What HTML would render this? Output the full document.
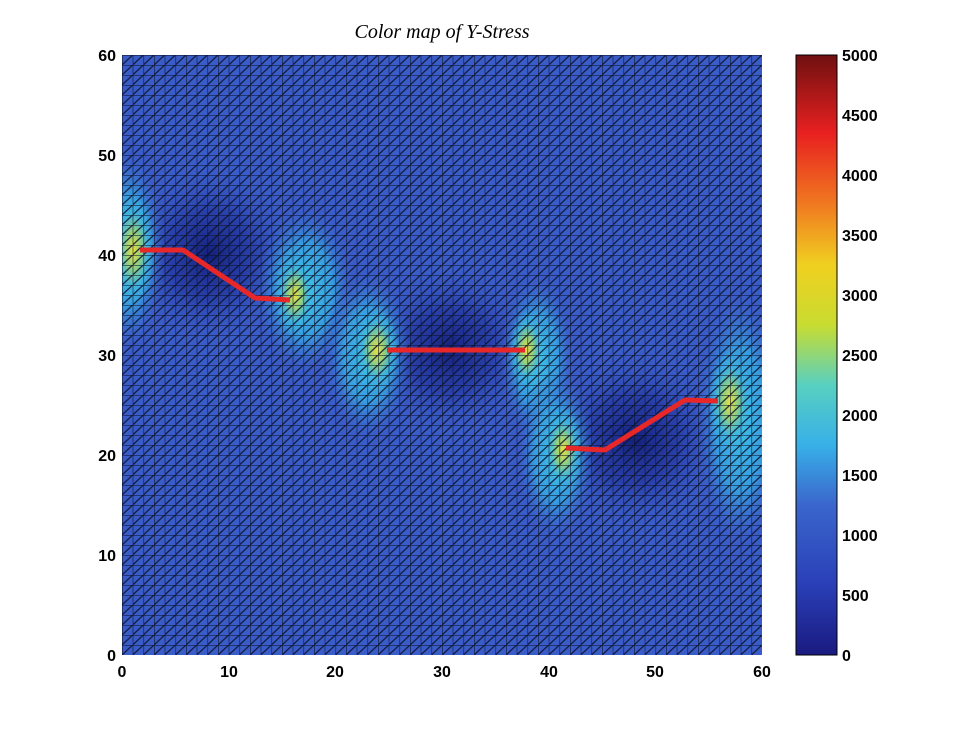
<!DOCTYPE html><html><head><style>body{margin:0;background:#fff;width:955px;height:733px;overflow:hidden}</style></head><body>
<svg width="955" height="733" xmlns="http://www.w3.org/2000/svg" font-family="Liberation Sans, sans-serif">
<defs>
<clipPath id="c"><rect x="122" y="55" width="640" height="600"/></clipPath>
<pattern id="g" x="122" y="55" width="10.667" height="10" patternUnits="userSpaceOnUse">
<path d="M0 0H10.667M0 0V10M0 10L10.667 0" stroke="#0a1028" stroke-width="1.3" fill="none" opacity="0.85"/></pattern>
<radialGradient id="hot"><stop offset="0" stop-color="#e8e040"/><stop offset="0.35" stop-color="#90d080"/><stop offset="0.7" stop-color="#40b8e0" stop-opacity="0.6"/><stop offset="1" stop-color="#40b8e0" stop-opacity="0"/></radialGradient>
<radialGradient id="cy"><stop offset="0" stop-color="#3cc4ea"/><stop offset="0.55" stop-color="#38a8e4" stop-opacity="0.85"/><stop offset="1" stop-color="#3a5cc8" stop-opacity="0"/></radialGradient>
<radialGradient id="dk"><stop offset="0" stop-color="#14207a"/><stop offset="0.5" stop-color="#22359e" stop-opacity="0.7"/><stop offset="1" stop-color="#3a5cc8" stop-opacity="0"/></radialGradient>
<linearGradient id="jet" x1="0" y1="1" x2="0" y2="0">
<stop offset="0" stop-color="#1a1a80"/><stop offset="0.12" stop-color="#2a40b8"/><stop offset="0.25" stop-color="#3a66cc"/><stop offset="0.35" stop-color="#38b0e8"/><stop offset="0.45" stop-color="#58d0c0"/><stop offset="0.55" stop-color="#c8dc30"/><stop offset="0.65" stop-color="#f0d020"/><stop offset="0.75" stop-color="#f07a20"/><stop offset="0.87" stop-color="#e82020"/><stop offset="1" stop-color="#701010"/></linearGradient>
</defs>
<text x="442" y="38" font-family="Liberation Serif, serif" font-style="italic" font-size="20" text-anchor="middle">Color map of Y-Stress</text>
<rect x="122" y="55" width="640" height="600" fill="#3a5cc8"/>
<g clip-path="url(#c)">
<ellipse cx="210" cy="255" rx="85" ry="90" fill="url(#dk)"/>
<ellipse cx="450" cy="350" rx="85" ry="85" fill="url(#dk)"/>
<ellipse cx="635" cy="440" rx="90" ry="90" fill="url(#dk)"/>
<ellipse cx="128" cy="250" rx="38" ry="100" fill="url(#cy)"/>
<ellipse cx="305" cy="290" rx="50" ry="85" fill="url(#cy)"/>
<ellipse cx="368" cy="355" rx="45" ry="85" fill="url(#cy)"/>
<ellipse cx="537" cy="360" rx="38" ry="85" fill="url(#cy)"/>
<ellipse cx="556" cy="455" rx="40" ry="85" fill="url(#cy)"/>
<ellipse cx="740" cy="420" rx="45" ry="130" fill="url(#cy)"/>
<ellipse cx="133" cy="250" rx="22" ry="55" fill="url(#hot)"/>
<ellipse cx="295" cy="295" rx="20" ry="40" fill="url(#hot)"/>
<ellipse cx="377" cy="350" rx="22" ry="42" fill="url(#hot)"/>
<ellipse cx="527" cy="350" rx="18" ry="40" fill="url(#hot)"/>
<ellipse cx="563" cy="450" rx="20" ry="42" fill="url(#hot)"/>
<ellipse cx="730" cy="402" rx="22" ry="50" fill="url(#hot)"/>
</g>
<rect x="122" y="55" width="640" height="600" fill="url(#g)"/>
<g stroke="#e82828" stroke-width="5" fill="none" stroke-linejoin="round">
<polyline points="140,250 183,250 255,298 290,300"/>
<polyline points="387,350 525,350"/>
<polyline points="566,448 605,450 685,400 718,401"/>
</g>
<g font-size="16" font-weight="bold" text-anchor="end">
<text x="116" y="61">60</text><text x="116" y="161">50</text><text x="116" y="261">40</text><text x="116" y="361">30</text><text x="116" y="461">20</text><text x="116" y="561">10</text><text x="116" y="661">0</text></g>
<g font-size="16" font-weight="bold" text-anchor="middle">
<text x="122" y="677">0</text><text x="229" y="677">10</text><text x="335" y="677">20</text><text x="442" y="677">30</text><text x="549" y="677">40</text><text x="655" y="677">50</text><text x="762" y="677">60</text></g>
<rect x="796" y="55" width="41" height="600" fill="url(#jet)" stroke="#000" stroke-width="1"/>
<g font-size="16" font-weight="bold">
<text x="842" y="61">5000</text><text x="842" y="121">4500</text><text x="842" y="181">4000</text><text x="842" y="241">3500</text><text x="842" y="301">3000</text><text x="842" y="361">2500</text><text x="842" y="421">2000</text><text x="842" y="481">1500</text><text x="842" y="541">1000</text><text x="842" y="601">500</text><text x="842" y="661">0</text></g>
</svg></body></html>
